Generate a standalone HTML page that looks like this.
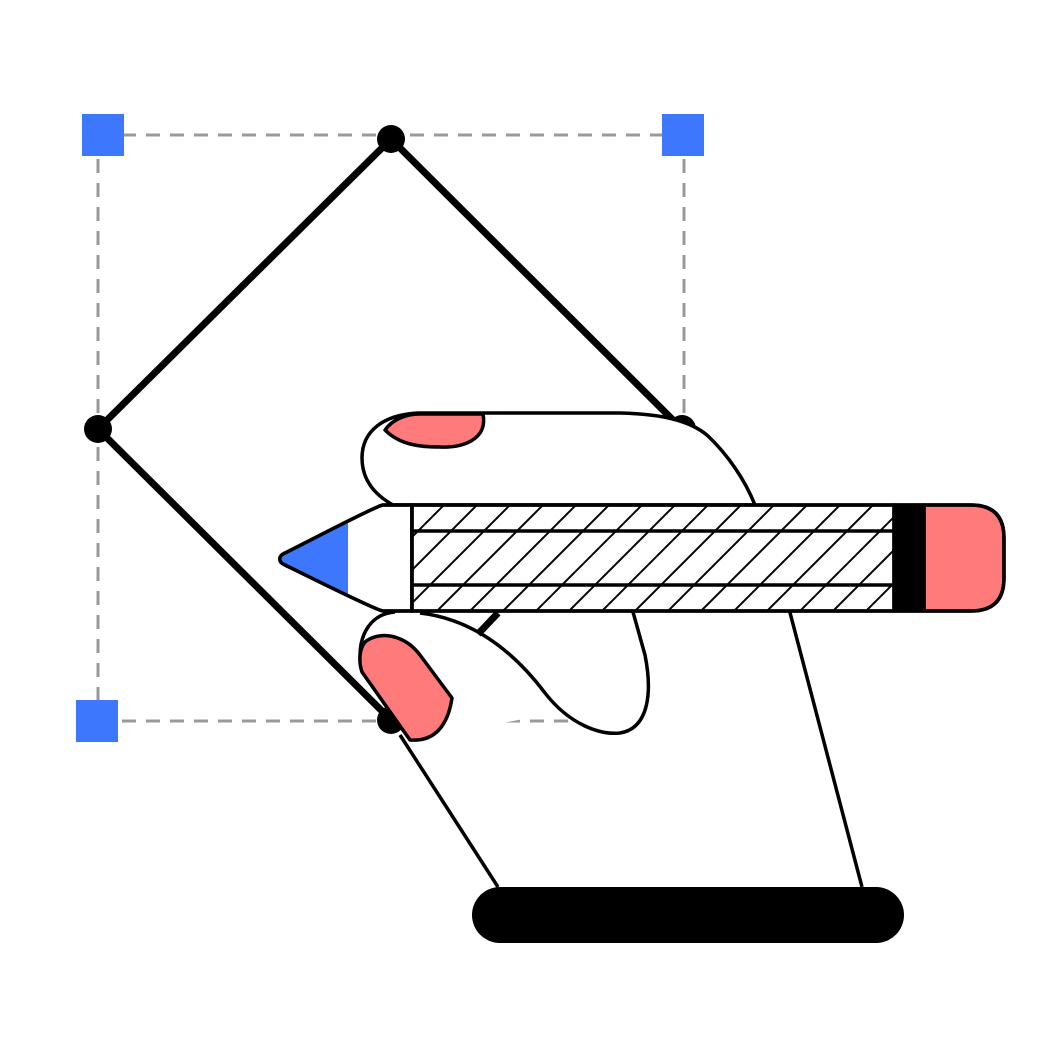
<!DOCTYPE html>
<html><head><style>html,body{margin:0;padding:0;background:#fff}svg{display:block}</style></head>
<body>
<svg width="1041" height="1041" viewBox="0 0 1041 1041" xmlns="http://www.w3.org/2000/svg">
<defs>
<pattern id="h" patternUnits="userSpaceOnUse" width="33" height="33" x="412" y="504">
<path d="M-5,38 L38,-5 M-5,5 L5,-5 M28,38 L38,28" stroke="#000" stroke-width="2"/>
</pattern>
</defs>
<g stroke="#999" stroke-width="3" stroke-dasharray="14,10" fill="none">
<line x1="98" y1="135" x2="684" y2="135"/>
<line x1="98" y1="135" x2="98" y2="720"/>
<line x1="684" y1="135" x2="684" y2="430"/>
<line x1="98" y1="721" x2="640" y2="721"/>
</g>
<rect x="82" y="114" width="42" height="42" fill="#3d77fd"/>
<rect x="662" y="114" width="42" height="42" fill="#3d77fd"/>
<rect x="76" y="700" width="42" height="42" fill="#3d77fd"/>
<polygon points="391,139 682,429 391,720 98,429" fill="none" stroke="#000" stroke-width="7"/>
<circle cx="391" cy="139" r="14"/><circle cx="98" cy="429" r="14"/><circle cx="682" cy="429" r="14"/><circle cx="391" cy="720" r="14"/>
<polygon points="410,612 480,640 560,712 440,735" fill="#fff"/>
<g stroke="#000" stroke-width="3.5" stroke-linejoin="round">
<line x1="400" y1="735" x2="498" y2="887"/>
<line x1="788" y1="605" x2="862" y2="887"/>
<path d="M420,413 L620,413 C660,414 690,420 708,436 C728,455 745,480 755,505 L393,505 C375,495 362,480 362,458 C362,430 385,414 420,413 Z" fill="#fff"/>
<path d="M385,430 C392,420 405,414 420,414 L483,414 C488,440 462,448 440,447 C420,447 400,445 385,430 Z" fill="#ff7a7a"/>
<path d="M395,612 C368,614 355,640 362,672 L410,740 L520,700 C530,680 545,693 545,693 C570,725 600,735 620,733 C650,728 652,690 645,655 L633,612 Z" fill="#fff" stroke="none"/>
<path d="M395,612 C368,614 355,640 362,672 M420,613 C480,620 520,660 545,693 C570,725 600,735 620,733 C650,728 652,690 645,655 L633,612" fill="none"/>
<line x1="478" y1="634" x2="498" y2="613" stroke-width="7"/>
<path d="M365,642 C380,630 405,635 420,655 L452,698 C448,725 435,742 410,740 L362,672 C358,660 360,648 365,642 Z" fill="#ff7a7a"/>
<path d="M383,505 L412,505 L412,611 L383,611 C375,610 300,572 285,565 C278,562 278,556 285,553 C300,546 375,506 383,505 Z" fill="#fff"/>
<path d="M348,521 L348,595 L286,565 C278,562 278,556 285,553 Z" fill="#3d77fd" stroke="none"/>
<path d="M383,505 L412,505 L412,611 L383,611 C375,610 300,572 285,565 C278,562 278,556 285,553 C300,546 375,506 383,505 Z" fill="none"/>
<rect x="412" y="505" width="482" height="106" fill="#fff" stroke="none"/>
<rect x="412" y="505" width="482" height="106" fill="url(#h)"/>
<line x1="412" y1="531" x2="894" y2="531"/>
<line x1="412" y1="585" x2="894" y2="585"/>
<path d="M924,505 L971,505 Q1004,505 1004,538 L1004,578 Q1004,611 971,611 L924,611 Z" fill="#ff7a7a"/>
<rect x="894" y="505" width="30" height="106" fill="#000"/>
<path d="M412,505 L971,505 Q1004,505 1004,538 L1004,578 Q1004,611 971,611 L412,611 Z" fill="none"/>
</g>
<rect x="472" y="887" width="432" height="56" rx="28" fill="#000"/>
</svg>
</body></html>
